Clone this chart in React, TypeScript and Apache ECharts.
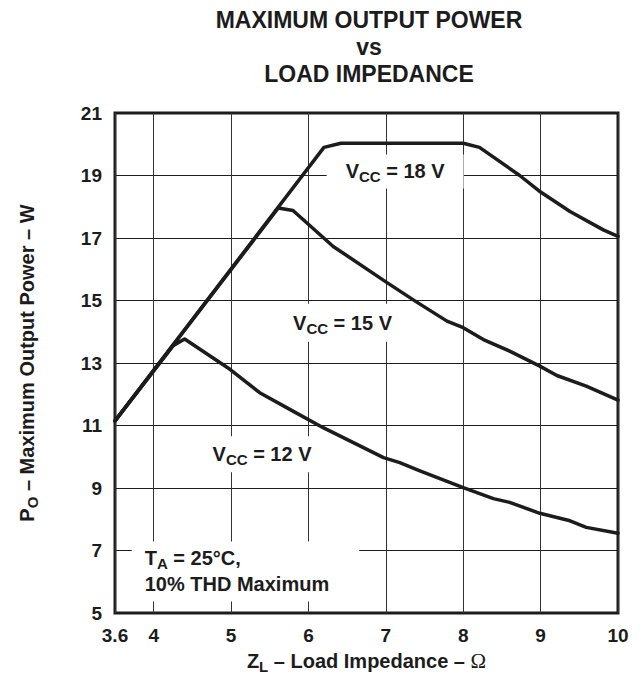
import React, { useEffect, useRef } from 'react';
import * as echarts from 'echarts';

// Axis ticks (left edge of the printed grid is labelled 3.6)
const xTicks = [3.5, 4, 5, 6, 7, 8, 9, 10];
const xTickText = (v: number) => (v === 3.5 ? '3.6' : String(v));
const yMin = 5;
const yMax = 21;
const yStep = 2;

// Curves: [load impedance (ohm), max output power (W)]
const vcc18: number[][] = [
  [3.5, 11.15], [6.2, 19.9], [6.42, 20.03], [8.0, 20.03], [8.21, 19.9],
  [8.73, 19.0], [9.0, 18.47], [9.38, 17.85], [9.81, 17.26], [10, 17.05],
];
const vcc15: number[][] = [
  [3.5, 11.15], [5.61, 17.96], [5.8, 17.88], [6.32, 16.73], [7.01, 15.58],
  [7.38, 14.98], [7.79, 14.34], [8.0, 14.13], [8.26, 13.75], [8.6, 13.38],
  [8.99, 12.9], [9.21, 12.6], [9.59, 12.26], [10, 11.81],
];
const vcc12: number[][] = [
  [3.5, 11.15], [4.25, 13.55], [4.4, 13.77], [4.99, 12.79], [5.37, 12.05],
  [5.8, 11.46], [6.19, 10.93], [6.58, 10.45], [6.97, 9.97], [7.18, 9.81],
  [7.44, 9.55], [8.0, 9.01], [8.39, 8.66], [8.6, 8.54], [8.99, 8.19],
  [9.38, 7.95], [9.59, 7.74], [10, 7.55],
];

const FONT = '"Liberation Sans", Arial, Helvetica, sans-serif';
const INK = '#1c1c1c';

export default function App() {
  const ref = useRef<HTMLDivElement>(null);

  useEffect(() => {
    document.body.style.margin = '0';
    const chart = echarts.init(ref.current!, null, { renderer: 'svg' });

    const rich: any = {
      v: { fontFamily: FONT, fontSize: 20, fontWeight: 'bold', color: INK, lineHeight: 26, textBorderWidth: 0 },
      s: { fontFamily: FONT, fontSize: 15, fontWeight: 'bold', color: INK, lineHeight: 12, verticalAlign: 'bottom', textBorderWidth: 0 },
      o: { fontFamily: '"Liberation Serif", "DejaVu Serif", serif', fontSize: 21, fontWeight: 'normal', color: INK, lineHeight: 26 },
    };

    const lineSeries = (name: string, data: number[][]) => ({
      type: 'line',
      name,
      data,
      symbol: 'none',
      showSymbol: false,
      silent: true,
      z: 3,
      lineStyle: { color: INK, width: 3.5, join: 'round', cap: 'round' },
    });

    chart.setOption({
      animation: false,
      grid: {
        left: 115, right: 22, top: 113, bottom: 65,
        show: true, borderColor: INK, borderWidth: 3, backgroundColor: 'transparent',
      },
      graphic: [
        {
          type: 'text',
          x: 369,
          y: 6,
          silent: true,
          style: {
            text: 'MAXIMUM OUTPUT POWER\nvs\nLOAD IMPEDANCE',
            fontFamily: FONT,
            fontSize: 23,
            fontWeight: 'bold',
            lineHeight: 27,
            fill: INK,
            align: 'center',
            verticalAlign: 'top',
          },
        },
      ],
      xAxis: {
        type: 'value',
        min: 3.5,
        max: 10,
        axisLine: { show: false },
        axisTick: { show: false, customValues: xTicks },
        axisLabel: {
          customValues: xTicks,
          formatter: xTickText,
          fontFamily: FONT, fontSize: 19, fontWeight: 'bold', color: INK, margin: 13,
        },
        splitLine: { show: true, lineStyle: { color: '#333', width: 1 } },
        name: '{v|Z}{s|L}{v| – Load Impedance – }{o|Ω}',
        nameLocation: 'middle',
        nameGap: 35,
        nameTextStyle: { rich },
      },
      yAxis: {
        type: 'value',
        min: yMin,
        max: yMax,
        interval: yStep,
        axisLine: { show: false },
        axisTick: { show: false },
        axisLabel: { fontFamily: FONT, fontSize: 19, fontWeight: 'bold', color: INK, margin: 13 },
        splitLine: { show: true, lineStyle: { color: '#1c1c1c', width: 1 } },
        name: '{v|P}{s|O}{v| – Maximum Output Power – W}',
        nameLocation: 'middle',
        nameRotate: 90,
        nameGap: 75,
        nameTextStyle: { rich },
      },
      series: [
        lineSeries('VCC = 18 V', vcc18),
        lineSeries('VCC = 15 V', vcc15),
        lineSeries('VCC = 12 V', vcc12),
        {
          type: 'scatter',
          symbolSize: 0,
          silent: true,
          z: 6,
          itemStyle: { opacity: 1, color: INK },
          label: {
            show: true,
            position: 'inside',
            color: INK,
            textBorderWidth: 0,
            opacity: 1,
            backgroundColor: '#ffffff',
            rich,
          },
          data: [
            { value: [7.12, 19.13], label: { formatter: '{v|V}{s|CC}{v| = 18 V}', padding: [4, 19, 4, 19] } },
            { value: [6.44, 14.29], label: { formatter: '{v|V}{s|CC}{v| = 15 V}', padding: [6, 14, 6, 14] } },
            { value: [5.4, 10.08], label: { formatter: '{v|V}{s|CC}{v| = 12 V}', padding: [5, 12, 5, 12] } },
            {
              value: [3.716, 6.33],
              label: {
                position: 'right',
                distance: 0,
                align: 'left',
                formatter: '{v|T}{s|A}{v| = 25°C,}\n{v|10% THD Maximum}',
                padding: [4, 30, 4, 13],
              },
            },
          ],
        },
      ],
    } as any);

    return () => chart.dispose();
  }, []);

  return <div ref={ref} style={{ width: 640, height: 679 }} />;
}
